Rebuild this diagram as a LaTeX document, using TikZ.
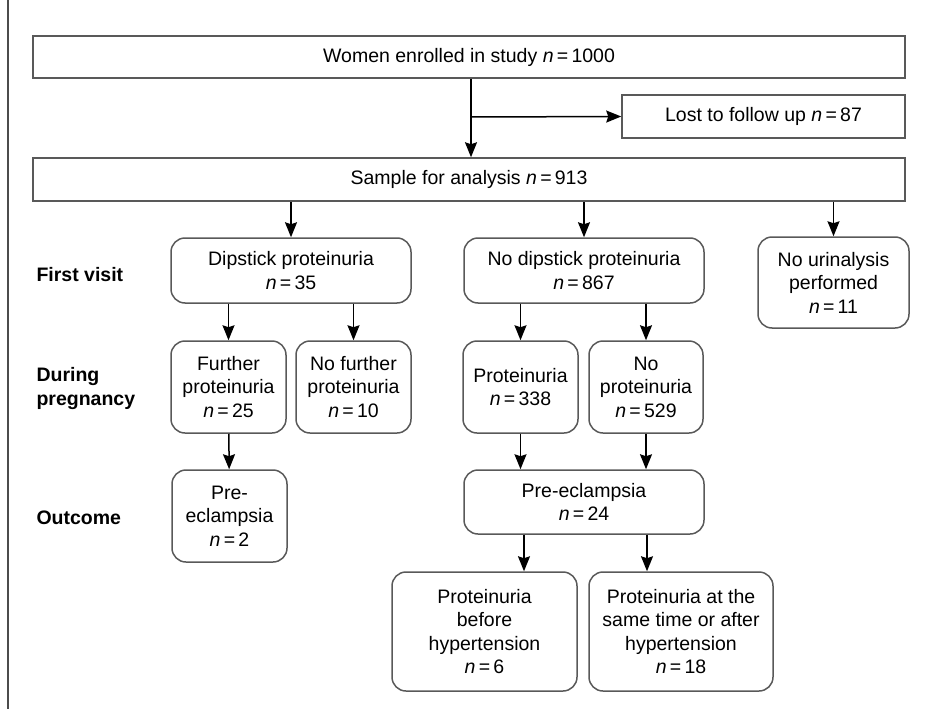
\documentclass[tikz,border=0pt]{standalone}
\usepackage{fontspec}
\setmainfont{Liberation Sans}
\usetikzlibrary{arrows.meta}

\newcommand{\nval}[1]{\textit{n}\,=\,#1}

\begin{document}
\begin{tikzpicture}[x=1pt,y=-1pt]
                \tikzset{BoxStyle/.style={draw=black!65, line width=1.5pt, inner sep=0pt,
                                          align=center, font=\fontsize{19.5}{23.5}\selectfont},
                         SqStyle/.style={BoxStyle, rectangle},
                         RoundStyle/.style={BoxStyle, rounded corners=14pt},
                         StageStyle/.style={anchor=west, align=left, font=\fontsize{19.5}{24}\selectfont\bfseries},
                         ArrowStyle/.style={line width=1.5pt, -{Stealth[length=15pt,width=12pt,inset=2pt]}}}
                \useasboundingbox (0,0) rectangle (926,709);
                \draw[black!70, line width=2pt] (8,0) -- (8,709);
                \node[SqStyle, minimum width=872pt, minimum height=42pt] (Enrol) at (469,57) {Women enrolled in study \nval{1000}};
                \node[SqStyle, minimum width=283pt, minimum height=43pt] (Lost) at (763.5,116.5) {Lost to follow up \nval{87}};
                \node[SqStyle, minimum width=872pt, minimum height=43pt] (Sample) at (469,179.5) {Sample for analysis \nval{913}};
                \node[RoundStyle, minimum width=240pt, minimum height=65pt] (Dip) at (291,270.5) {Dipstick proteinuria\\\nval{35}};
                \node[RoundStyle, minimum width=240pt, minimum height=65pt] (NoDip) at (584,270.5) {No dipstick proteinuria\\\nval{867}};
                \node[RoundStyle, minimum width=151pt, minimum height=91pt] (NoUrin) at (833.5,282.5) {No urinalysis\\performed\\\nval{11}};
                \node[RoundStyle, minimum width=115pt, minimum height=92pt] (Further) at (228.5,387) {Further\\proteinuria\\\nval{25}};
                \node[RoundStyle, minimum width=115pt, minimum height=92pt] (NoFurther) at (353.5,387) {No further\\proteinuria\\\nval{10}};
                \node[RoundStyle, minimum width=115pt, minimum height=92pt] (Prot) at (520.5,387) {Proteinuria\\\nval{338}};
                \node[RoundStyle, minimum width=114pt, minimum height=92pt] (NoProt) at (646,387) {No\\proteinuria\\\nval{529}};
                \node[RoundStyle, minimum width=115pt, minimum height=92pt] (PreTwo) at (229.5,516) {Pre-\\eclampsia\\\nval{2}};
                \node[RoundStyle, minimum width=240pt, minimum height=64pt] (PreAll) at (584,502) {Pre-eclampsia\\\nval{24}};
                \node[RoundStyle, minimum width=185pt, minimum height=119pt] (Before) at (484.5,631.5) {Proteinuria\\before\\hypertension\\\nval{6}};
                \node[RoundStyle, minimum width=184pt, minimum height=119pt] (After) at (681,631.5) {Proteinuria at the\\same time or after\\hypertension\\\nval{18}};
                \node[StageStyle] (First) at (33,275) {First visit};
                \node[StageStyle] (During) at (33,388) {During\\pregnancy};
                \node[StageStyle] (Outcome) at (33,518) {Outcome};
                \coordinate (Split) at (471,117);
                \draw[ArrowStyle] (Enrol.south -| Split) -- (Sample.north -| Split);
                \draw[ArrowStyle] (Split) -- (Lost.west);
                \draw[ArrowStyle] (Sample.south -| Dip) -- (Dip);
                \draw[ArrowStyle] (Sample.south -| NoDip) -- (NoDip);
                \draw[ArrowStyle] (Sample.south -| NoUrin) -- (NoUrin);
                \draw[ArrowStyle] (Dip.south -| Further) -- (Further);
                \draw[ArrowStyle] (Dip.south -| NoFurther) -- (NoFurther);
                \draw[ArrowStyle] (NoDip.south -| Prot) -- (Prot);
                \draw[ArrowStyle] (NoDip.south -| NoProt) -- (NoProt);
                \draw[ArrowStyle] (Further) -- (PreTwo);
                \draw[ArrowStyle] (Prot) -- (Prot |- PreAll.north);
                \draw[ArrowStyle] (NoProt) -- (NoProt |- PreAll.north);
                \draw[ArrowStyle] ([xshift=-60pt]PreAll.south) -- ([xshift=-60pt]PreAll.south |- Before.north);
                \draw[ArrowStyle] ([xshift=63pt]PreAll.south) -- ([xshift=63pt]PreAll.south |- After.north);
            \end{tikzpicture}
\end{document}
